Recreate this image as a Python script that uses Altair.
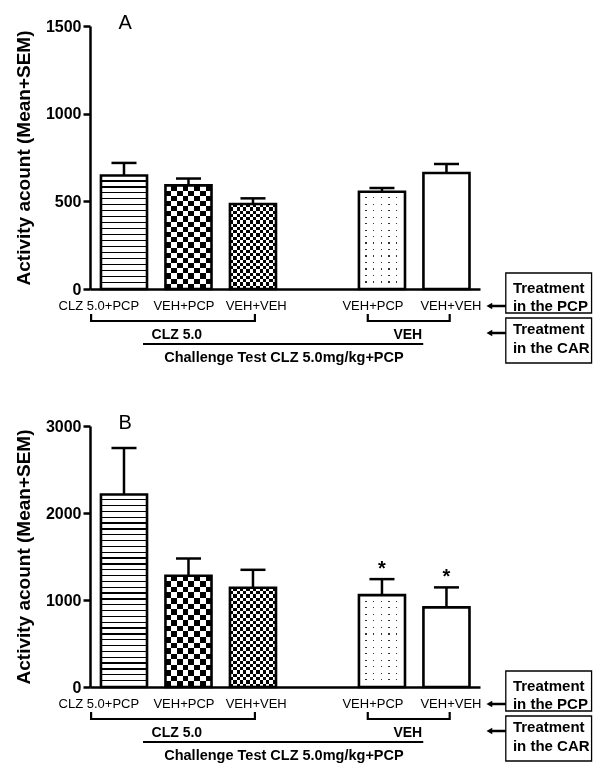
import altair as alt
import pandas as pd

# ---------------- data ----------------
LABELS = ["CLZ 5.0+PCP", "VEH+PCP", "VEH+VEH", "VEH+PCP", "VEH+VEH"]
SLOTS = [0, 1, 2, 4, 5]          # category slot (slot 3 is the empty gap)
A_MEAN = [647, 591, 485, 555, 662]
A_SEM = [72, 39, 32, 21, 51]
A_SIG = ["", "", "", "", ""]
B_MEAN = [2212, 1278, 1140, 1056, 915]
B_SEM = [535, 199, 207, 184, 230]
B_SIG = ["", "", "", "*", "*"]
GROUPS = ["CLZ 5.0", "VEH"]
CHALLENGE = "Challenge Test CLZ 5.0mg/kg+PCP"
BOX_TEXT = [["Treatment", "in the PCP"], ["Treatment", "in the CAR"]]
Y_TITLE = "Activity acount (Mean+SEM)"

# ---------------- layout / style ----------------
FONT = "Liberation Sans"
W = 390
X_DOMAIN = [-0.527, 5.52]
PXU = W / (X_DOMAIN[1] - X_DOMAIN[0])
HALF = 0.357
CAP = 0.194
BAR_PX = 2 * HALF * PXU
LABEL_X = [-0.39, 0.93, 2.05, 3.86, 5.07]
GROUP_SPANS = [(-0.51, 2.03), (3.78, 5.05)]
GROUP_TEXT_X = [0.82, 4.4]
LONG_LINE = (0.295, 4.64)
CHALLENGE_X = 2.48
BOX_X = (5.92, 7.25)
BOX_TEXT_X = 6.03
ARROW = (5.69, 5.92, 5.665)
PATTERNS = ["hlines", "checker", "checker_fine", "dots", "blank"]


def grad(n, duty, on, off, vertical):
    n = max(1, int(n))
    stops = []
    for k in range(n):
        a = k / n
        m = (k + 1 - duty) / n
        b = (k + 1) / n
        for c, o in ((off, a), (off, m), (on, m), (on, b)):
            stops.append({"color": c, "offset": round(min(max(o, 0), 1), 5)})
    return {"gradient": "linear", "x1": 0, "y1": 0,
            "x2": 0 if vertical else 1, "y2": 1 if vertical else 0,
            "stops": stops}


def panel(letter, means, sems, sig, ymax, yticks, H):
    df = pd.DataFrame({"slot": SLOTS, "label": LABELS, "mean": means,
                       "sem": sems, "sig": sig, "labx": LABEL_X,
                       "idx": list(range(len(SLOTS)))})
    xs = alt.Scale(domain=X_DOMAIN, nice=False, zero=False)
    ys = alt.Scale(domain=[0, ymax], nice=False, zero=True)
    xaxis = alt.Axis(labels=False, ticks=False, title=None, grid=False,
                     domainWidth=2.5, domainColor="black")
    yaxis = alt.Axis(values=yticks, title=Y_TITLE, grid=False, format="d",
                     titleFont=FONT, titleFontSize=19, titleFontWeight="bold",
                     titleColor="black", titlePadding=12,
                     labelFont=FONT, labelFontSize=16, labelFontWeight="bold",
                     labelColor="black", labelPadding=2,
                     tickSize=7, tickWidth=2.5, tickColor="black",
                     domainWidth=2.5, domainColor="black")

    def X(f):
        return alt.X(f, scale=xs, axis=xaxis)

    def Y(f):
        return alt.Y(f, scale=ys, axis=yaxis)

    base = alt.Chart(df).transform_calculate(
        x1=f"datum.slot - {HALF}", x2=f"datum.slot + {HALF}",
        c1=f"datum.slot - {CAP}", c2=f"datum.slot + {CAP}",
        top="datum.mean + datum.sem", zero="0")

    rect_enc = dict(x=X("x1:Q"), x2="x2:Q", y=Y("mean:Q"), y2="zero:Q")
    layers = []
    # error bars (behind bars)
    layers.append(base.mark_rule(color="black", strokeWidth=2.5).encode(
        x=X("slot:Q"), y=Y("mean:Q"), y2="top:Q"))
    layers.append(base.mark_rule(color="black", strokeWidth=2.5).encode(
        x=X("c1:Q"), x2="c2:Q", y=Y("top:Q")))

    for i, pat in enumerate(PATTERNS):
        h = means[i] * H / ymax
        b = base.transform_filter(f"datum.idx == {i}")
        if pat == "hlines":
            layers.append(b.mark_rect(fill=grad(round(h / 5.85), 0.22, "black", "white", True)).encode(**rect_enc))
        elif pat in ("checker", "checker_fine"):
            per = 10.6 if pat == "checker" else 6.4
            layers.append(b.mark_rect(fill=grad(round(BAR_PX / per), 0.5, "black", "white", False)).encode(**rect_enc))
            layers.append(b.mark_rect(fill=grad(round(h / per), 0.5, "white", "black", True),
                                      blend="difference").encode(**rect_enc))
        elif pat == "dots":
            layers.append(b.mark_rect(fill=grad(round(h / 6.7), 0.17, "#333333", "white", True)).encode(**rect_enc))
            layers.append(b.mark_rect(fill=grad(round(BAR_PX / 7.6), 0.16, "black", "white", False),
                                      blend="lighten").encode(**rect_enc))
        else:
            layers.append(b.mark_rect(fill="white").encode(**rect_enc))

    # bar outlines
    layers.append(base.mark_rect(filled=False, stroke="black", strokeWidth=2.6,
                                 strokeJoin="miter").encode(**rect_enc))
    # significance stars
    layers.append(base.mark_text(font=FONT, fontSize=20, fontWeight="bold",
                                 baseline="alphabetic", dy=-4, color="black").encode(
        x=X("slot:Q"), y=Y("top:Q"), text="sig:N"))
    # category labels
    layers.append(base.mark_text(font=FONT, fontSize=13, baseline="middle",
                                 color="black").encode(
        x=X("labx:Q"), y=alt.value(H + 17), text="label:N"))

    # brackets
    gdf = pd.DataFrame({"g": GROUPS, "a": [s[0] for s in GROUP_SPANS],
                        "b": [s[1] for s in GROUP_SPANS], "tx": GROUP_TEXT_X})
    gch = alt.Chart(gdf)
    layers.append(gch.mark_rule(color="black", strokeWidth=2.2).encode(
        x=X("a:Q"), x2="b:Q", y=alt.value(H + 32)))
    layers.append(gch.mark_rule(color="black", strokeWidth=2.2).encode(
        x=X("a:Q"), y=alt.value(H + 25), y2=alt.value(H + 33)))
    layers.append(gch.mark_rule(color="black", strokeWidth=2.2).encode(
        x=X("b:Q"), y=alt.value(H + 25), y2=alt.value(H + 33)))
    layers.append(gch.mark_text(font=FONT, fontSize=14, fontWeight="bold",
                                baseline="middle", color="black").encode(
        x=X("tx:Q"), y=alt.value(H + 46), text="g:N"))

    # long challenge line + text
    cdf = pd.DataFrame({"t": [CHALLENGE], "a": [LONG_LINE[0]], "b": [LONG_LINE[1]],
                        "tx": [CHALLENGE_X]})
    cch = alt.Chart(cdf)
    layers.append(cch.mark_rule(color="black", strokeWidth=2).encode(
        x=X("a:Q"), x2="b:Q", y=alt.value(H + 55)))
    layers.append(cch.mark_text(font=FONT, fontSize=14.5, fontWeight="bold",
                                baseline="middle", color="black").encode(
        x=X("tx:Q"), y=alt.value(H + 69), text="t:N"))

    # right-hand boxes and arrows
    bdf = pd.DataFrame({"a": [BOX_X[0]], "b": [BOX_X[1]], "ah": [ARROW[0]], "at": [ARROW[1]],
                        "tip": [ARROW[2]], "tx": [BOX_TEXT_X]})
    bch = alt.Chart(bdf)
    for (y0, y1) in ((H - 16, H + 24), (H + 29, H + 74)):
        layers.append(bch.mark_rect(fill="white", stroke="black", strokeWidth=1.3).encode(
            x=X("a:Q"), x2="b:Q", y=alt.value(y0), y2=alt.value(y1)))
    for yy in (H + 17, H + 44):
        layers.append(bch.mark_rule(color="black", strokeWidth=2.5).encode(
            x=X("ah:Q"), x2="at:Q", y=alt.value(yy)))
        layers.append(bch.mark_point(shape="triangle-left", filled=True, color="black",
                                     size=45, opacity=1).encode(
            x=X("tip:Q"), y=alt.value(yy)))
    for (lines, ys0) in zip(BOX_TEXT, ((H - 1, H + 17), (H + 40, H + 59))):
        for t, yy in zip(lines, ys0):
            tdf = pd.DataFrame({"t": [t], "tx": [BOX_TEXT_X]})
            layers.append(alt.Chart(tdf).mark_text(font=FONT, fontSize=15, fontWeight="bold",
                                                   baseline="middle", align="left",
                                                   color="black").encode(
                x=X("tx:Q"), y=alt.value(yy), text="t:N"))

    # panel letter
    ldf = pd.DataFrame({"t": [letter], "x": [0.02]})
    layers.append(alt.Chart(ldf).mark_text(font=FONT, fontSize=20, baseline="alphabetic",
                                           color="black").encode(
        x=X("x:Q"), y=alt.value(3), text="t:N"))

    return alt.layer(*layers).properties(width=W, height=H)


pa = panel("A", A_MEAN, A_SEM, A_SIG, 1500, [0, 500, 1000, 1500], 263)
pb = panel("B", B_MEAN, B_SEM, B_SIG, 3000, [0, 1000, 2000, 3000], 261)

chart = alt.vconcat(pa, pb, spacing=48).properties(
    padding={"left": 6, "top": 5, "right": 0, "bottom": 0},
    background="white",
).configure_view(stroke=None)

chart.save("out.html", embed_options={"renderer": "svg", "actions": False})
